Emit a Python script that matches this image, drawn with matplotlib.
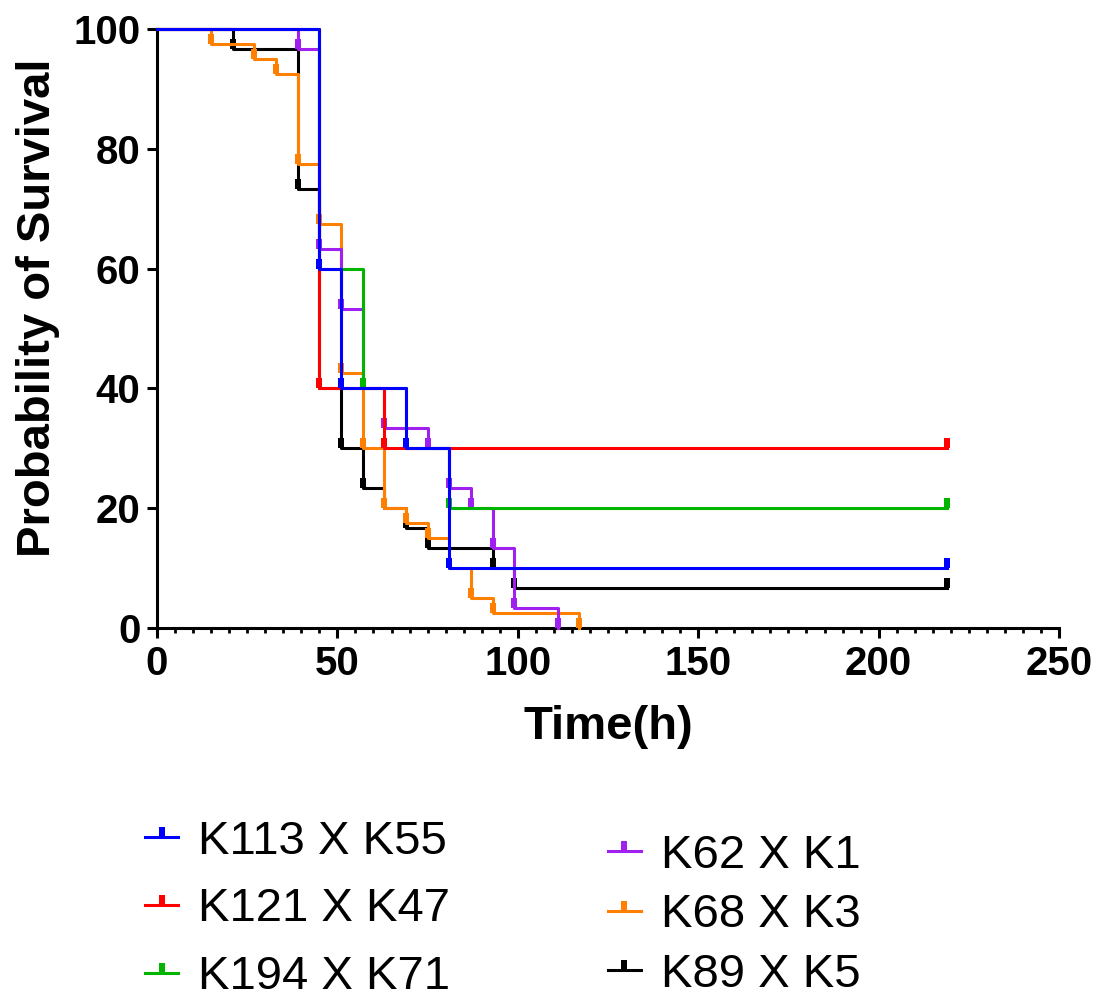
import matplotlib
matplotlib.use('Agg')
import matplotlib.pyplot as plt
from matplotlib.path import Path
from matplotlib.lines import Line2D

plt.rcParams['font.family'] = ['Liberation Sans', 'DejaVu Sans']

# group names and colours (same order as the legend)
names = ['K113 X K55', 'K121 X K47', 'K194 X K71', 'K62 X K1', 'K68 X K3', 'K89 X K5']
colors = ['#0000ff', '#ff0000', '#00b400', '#a020f0', '#ff8000', '#000000']

# survival curves, time (h) and % alive after each step, last point = censor
t_k113 = [0, 45, 51, 69, 81, 219]
s_k113 = [100, 60, 40, 30, 10, 10]
t_k121 = [0, 45, 63, 219]
s_k121 = [100, 40, 30, 30]
t_k194 = [0, 45, 57, 69, 81, 219]
s_k194 = [100, 60, 40, 30, 20, 20]
t_k62 = [0, 39, 45, 51, 57, 63, 75, 81, 87, 93, 99, 111]
s_k62 = [100, 96.67, 63.33, 53.33, 40, 33.33, 30, 23.33, 20, 13.33, 3.33, 0]
t_k68 = [0, 15, 27, 33, 39, 45, 51, 57, 63, 69, 75, 81, 87, 93, 117]
s_k68 = [100, 97.5, 95, 92.5, 77.5, 67.5, 42.5, 30, 20, 17.5, 15, 10, 5, 2.5, 0]
t_k89 = [0, 21, 39, 45, 51, 57, 63, 69, 75, 93, 99, 219]
s_k89 = [100, 96.67, 73.33, 40, 30, 23.33, 20, 16.67, 13.33, 10, 6.67, 6.67]

times = [t_k113, t_k121, t_k194, t_k62, t_k68, t_k89]
survs = [s_k113, s_k121, s_k194, s_k62, s_k68, s_k89]

xticks = [0, 50, 100, 150, 200, 250]
yticks = [0, 20, 40, 60, 80, 100]

# little upward bar used as the point marker (like prism)
tick = Path([(-0.3, 0), (0.3, 0), (0.3, 1), (-0.3, 1), (-0.3, 0)],
            [Path.MOVETO, Path.LINETO, Path.LINETO, Path.LINETO, Path.CLOSEPOLY])

fig = plt.figure(figsize=(11.01, 10.01), dpi=100)
ax = fig.add_axes([0.1426, 0.3726, 0.8193, 0.5984])

# first group on top, so draw backwards
for i in reversed(range(len(names))):
    z = 10 - i
    ax.step(times[i], survs[i], where='post', color=colors[i], lw=2.2,
            clip_on=False, zorder=z)
    ax.plot(times[i][1:], survs[i][1:], ls='none', marker=tick, ms=15, mew=0,
            color=colors[i], clip_on=False, zorder=z)

ax.set_xlim(0, 250)
ax.set_ylim(0, 100)
ax.set_xticks(xticks)
ax.set_xticks(range(0, 251, 5), minor=True)
ax.set_yticks(yticks)
for side in ['top', 'right']:
    ax.spines[side].set_visible(False)
for side in ['left', 'bottom']:
    ax.spines[side].set_linewidth(2.2)
ax.tick_params(axis='both', which='major', length=7, width=2.2, labelsize=29, pad=5)
ax.tick_params(axis='x', which='minor', length=3.5, width=2.0)
for lab in ax.get_xticklabels() + ax.get_yticklabels():
    lab.set_fontweight('bold')

ax.set_xlabel('Time(h)', fontsize=34, fontweight='bold', labelpad=16)
ax.set_ylabel('Probability of Survival', fontsize=34, fontweight='bold')
ax.yaxis.set_label_coords(-0.108, 0.534)

handles = []
for i in range(len(names)):
    handles.append(Line2D([], [], color=colors[i], lw=2.2, marker=tick, ms=14,
                          mew=0))

leg_opts = dict(frameon=False, fontsize=34, handlelength=0.7, handletextpad=0.42,
                borderpad=0, borderaxespad=0, loc='upper left')
fig.legend(handles[:3], names[:3], bbox_to_anchor=(0.1317, 0.181),
           labelspacing=0.5, **leg_opts)
fig.legend(handles[3:], names[3:], bbox_to_anchor=(0.552, 0.167),
           labelspacing=0.33, **leg_opts)

fig.savefig('out.png', dpi=100)
